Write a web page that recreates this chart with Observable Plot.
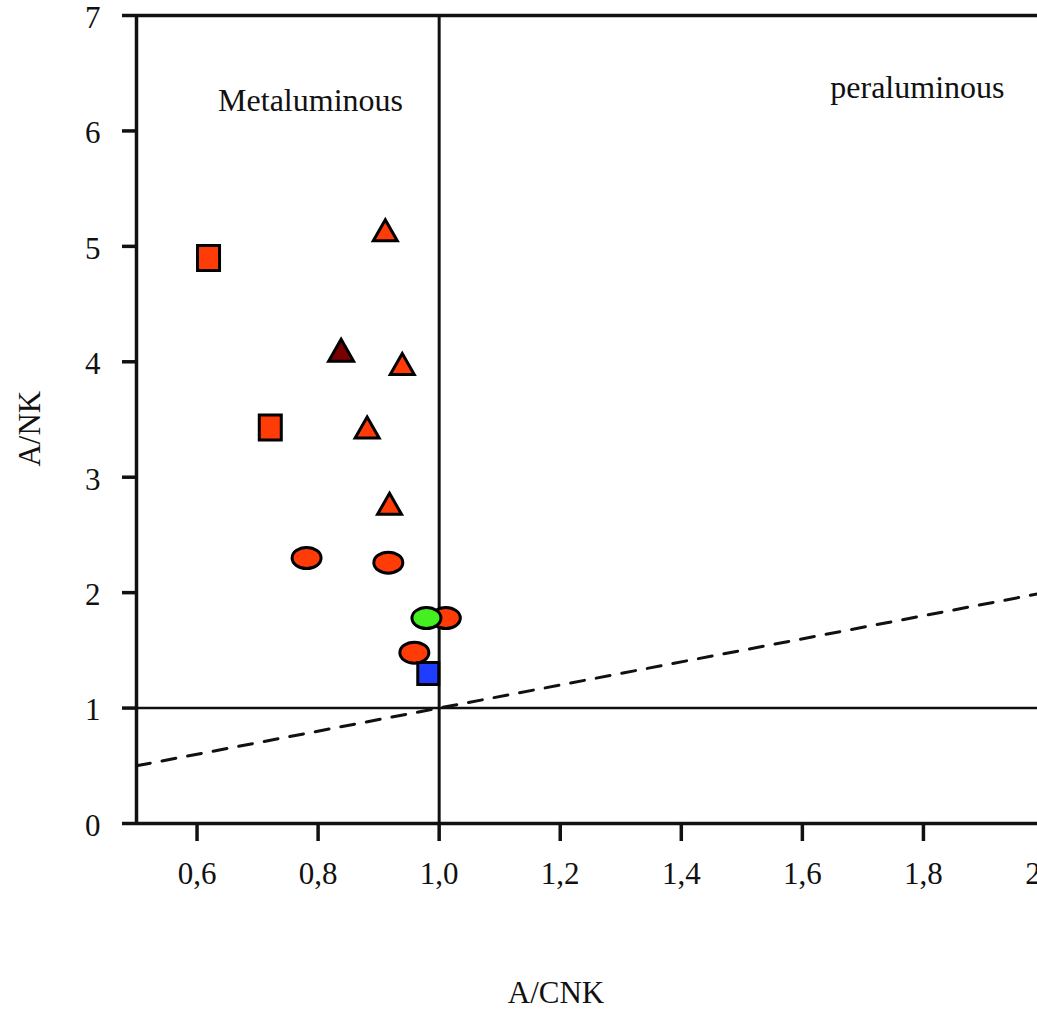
<!DOCTYPE html>
<html>
<head>
<meta charset="utf-8">
<script src="https://cdn.jsdelivr.net/npm/d3@7"></script>
<script src="https://cdn.jsdelivr.net/npm/@observablehq/plot@0.6"></script>
<style>
html, body { margin: 0; padding: 0; background: #fff; overflow: hidden; }
#chart { width: 1037px; height: 1009px; overflow: hidden; }
</style>
</head>
<body>
<div id="chart"></div>
<script>
// ---- data ----
const redSquareX = [0.619, 0.721];
const redSquareY = [4.90, 3.43];
const redTriangleX = [0.911, 0.939, 0.881, 0.918];
const redTriangleY = [5.14, 3.98, 3.43, 2.77];
const darkTriangleX = [0.838];
const darkTriangleY = [4.10];
const redCircleX = [0.781, 0.916, 1.011, 0.959];
const redCircleY = [2.30, 2.26, 1.78, 1.48];
const greenCircleX = [0.979];
const greenCircleY = [1.78];
const blueSquareX = [0.982];
const blueSquareY = [1.30];

const xDomain = [0.5, 2.0];
const yDomain = [0, 7];
const xTicks = [0.6, 0.8, 1.0, 1.2, 1.4, 1.6, 1.8, 2.0];
const yTicks = [0, 1, 2, 3, 4, 5, 6, 7];
const aCNKBoundary = [1.0];
const aNKBoundary = [1.0];
const equalityX = [0.5, 2.0];   // A/NK = A/CNK
const equalityY = [0.5, 2.0];

const regionLabels = ["Metaluminous", "peraluminous"];
const regionX = [0.7875, 1.790];
const regionY = [6.26, 6.37];

const xTitle = ["A/CNK"], xTitleX = [1.193], xTitleY = [-1.47];
const yTitle = ["A/NK"], yTitleX = [0.325], yTitleY = [3.42];

// ---- helpers ----
const pts = (xs, ys, extra = {}) => xs.map((x, i) => ({x, y: ys[i], ...extra}));
const rectSym = (hw, hh) => ({draw(ctx) {
  ctx.moveTo(-hw, -hh); ctx.lineTo(hw, -hh); ctx.lineTo(hw, hh); ctx.lineTo(-hw, hh); ctx.closePath();
}});
const triSym = (hw, hh) => ({draw(ctx) {
  ctx.moveTo(0, -hh); ctx.lineTo(hw, hh); ctx.lineTo(-hw, hh); ctx.closePath();
}});
const ellSym = (rx, ry) => ({draw(ctx) {
  const k = 0.5523;
  ctx.moveTo(rx, 0);
  ctx.bezierCurveTo(rx, k * ry, k * rx, ry, 0, ry);
  ctx.bezierCurveTo(-k * rx, ry, -rx, k * ry, -rx, 0);
  ctx.bezierCurveTo(-rx, -k * ry, -k * rx, -ry, 0, -ry);
  ctx.bezierCurveTo(k * rx, -ry, rx, -k * ry, rx, 0);
  ctx.closePath();
}});

const RED = "#ff3c08", DARK = "#780000", GREEN = "#44f020", BLUE = "#1f3cff";
const font = "'Liberation Serif', 'Times New Roman', serif";
const FS = 31;
const dotOpts = {x: "x", y: "y", stroke: "black", strokeWidth: 3, r: 10};

const plot = Plot.plot({
  width: 1100,
  height: 1009,
  marginLeft: 136,
  marginRight: 56,
  marginTop: 15,
  marginBottom: 186,
  x: {domain: xDomain, label: null},
  y: {domain: yDomain, label: null},
  style: {fontFamily: font, fontSize: FS + "px", background: "white", maxWidth: "none", color: "#111"},
  marks: [
    // frame lines
    Plot.ruleX([xDomain[0]], {y1: yDomain[0], y2: yDomain[1], strokeWidth: 3.5}),
    Plot.ruleY([yDomain[0]], {x1: xDomain[0], x2: xDomain[1], strokeWidth: 3.5}),
    Plot.ruleY([yDomain[1]], {x1: xDomain[0], x2: xDomain[1], strokeWidth: 3.5}),
    // field boundaries
    Plot.ruleX(aCNKBoundary, {y1: yDomain[0], y2: yDomain[1], strokeWidth: 3}),
    Plot.ruleY(aNKBoundary, {x1: xDomain[0], x2: xDomain[1], strokeWidth: 2.6}),
    Plot.line(pts(equalityX, equalityY), {x: "x", y: "y", strokeWidth: 3, strokeDasharray: "14,12"}),
    // axes
    Plot.axisX(xTicks, {anchor: "bottom", tickSize: 18, tickPadding: 20, strokeWidth: 3.5,
      tickFormat: d => d.toFixed(1).replace(".", ","), fontSize: FS, label: null}),
    Plot.axisY(yTicks, {anchor: "left", tickSize: 14, strokeWidth: 3.5,
      tickFormat: () => "", label: null}),
    Plot.axisY(yTicks, {anchor: "left", tickSize: 0, tickPadding: 36, dy: 2.5,
      tickFormat: d => String(d), fontSize: FS, label: null}),
    // samples
    Plot.dot(pts(redSquareX, redSquareY), {...dotOpts, fill: RED, symbol: rectSym(11, 12.5)}),
    Plot.dot(pts(redTriangleX, redTriangleY), {...dotOpts, fill: RED, symbol: triSym(12, 10.5)}),
    Plot.dot(pts(darkTriangleX, darkTriangleY), {...dotOpts, fill: DARK, symbol: triSym(12.5, 11)}),
    Plot.dot(pts(redCircleX, redCircleY), {...dotOpts, fill: RED, symbol: ellSym(14.5, 10.5)}),
    Plot.dot(pts(greenCircleX, greenCircleY), {...dotOpts, fill: GREEN, symbol: ellSym(14.5, 10.5)}),
    Plot.dot(pts(blueSquareX, blueSquareY), {...dotOpts, fill: BLUE, symbol: rectSym(10.5, 11)}),
    // labels
    Plot.text(regionLabels.map((t, i) => ({t, x: regionX[i], y: regionY[i]})),
      {x: "x", y: "y", text: "t", fontSize: FS + 1, fill: "#111"}),
    Plot.text(pts(xTitleX, xTitleY, {t: xTitle[0]}), {x: "x", y: "y", text: "t", fontSize: FS, fill: "#111"}),
    Plot.text(pts(yTitleX, yTitleY, {t: yTitle[0]}), {x: "x", y: "y", text: "t", fontSize: FS, rotate: -90, fill: "#111"})
  ]
});
document.getElementById("chart").appendChild(plot);
</script>
</body>
</html>
